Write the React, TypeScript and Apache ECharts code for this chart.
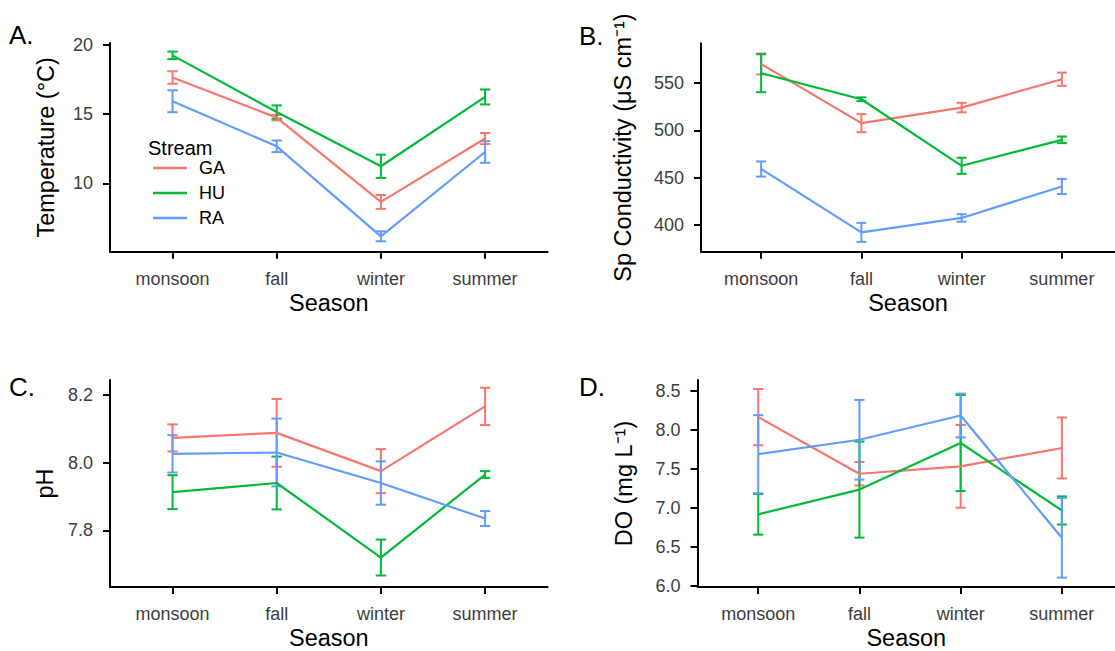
import React, { useEffect, useRef } from 'react';
import * as echarts from 'echarts';

const seasons = ['monsoon', 'fall', 'winter', 'summer'];
const streams = ['GA', 'HU', 'RA'];
const streamColors = ['#F8766D', '#00BA38', '#619CFF'];

// Panel A: temperature (°C), rows GA, HU, RA
const tempMean = [
  [17.64, 14.75, 8.67, 13.24],
  [19.24, 15.15, 11.24, 16.24],
  [15.93, 12.68, 6.19, 12.27],
];
const tempErr = [
  [0.45, 0.2, 0.5, 0.4],
  [0.27, 0.48, 0.84, 0.54],
  [0.79, 0.42, 0.36, 0.78],
];
const tempTicks = [10, 15, 20];

// Panel B: specific conductivity
const condMean = [
  [570, 507.6, 524, 553.9],
  [560.2, 532.8, 462.6, 490],
  [459.2, 392.4, 407.6, 440.8],
];
const condErr = [
  [11, 9.5, 5, 7],
  [20, 2, 8.5, 3.5],
  [8, 10, 4, 8],
];
const condTicks = [400, 450, 500, 550];

// Panel C: pH
const phMean = [
  [8.073, 8.088, 7.975, 8.166],
  [7.913, 7.94, 7.72, 7.965],
  [8.026, 8.03, 7.94, 7.835],
];
const phErr = [
  [0.04, 0.1, 0.065, 0.055],
  [0.05, 0.078, 0.053, 0.01],
  [0.055, 0.1, 0.064, 0.022],
];
const phTicks = [7.8, 8.0, 8.2];

// Panel D: dissolved oxygen
const doMean = [
  [8.165, 7.44, 7.535, 7.77],
  [6.92, 7.237, 7.833, 6.97],
  [7.69, 7.875, 8.185, 6.62],
];
const doErr = [
  [0.36, 0.15, 0.53, 0.39],
  [0.26, 0.615, 0.615, 0.18],
  [0.5, 0.51, 0.28, 0.51],
];
const doTicks = [6.0, 6.5, 7.0, 7.5, 8.0, 8.5];

const FONT = 'Liberation Sans, Arial, Helvetica, sans-serif';
const TICK_COLOR = '#3d3d3d';

const panels = [
  { letter: 'A.', lx: 9, ly: 35, left: 110, top: 43, width: 437.6, height: 208.7, xMax: 4.6, yMin: 5.08, yMax: 20.13, ticks: tempTicks, dec: 0, name: 'Temperature (°C)', nameGap: 52, mean: tempMean, err: tempErr },
  { letter: 'B.', lx: 579, ly: 36, left: 701, top: 43.3, width: 414, height: 208.4, xMax: 4.53, yMin: 372, yMax: 591.8, ticks: condTicks, dec: 0, name: 'Sp Conductivity (μS cm⁻¹)', nameGap: 66, mean: condMean, err: condErr },
  { letter: 'C.', lx: 9, ly: 387, left: 110, top: 380, width: 437.6, height: 207.7, xMax: 4.6, yMin: 7.633, yMax: 8.244, ticks: phTicks, dec: 1, name: 'pH', nameGap: 53, mean: phMean, err: phErr },
  { letter: 'D.', lx: 579, ly: 387, left: 697.5, top: 380, width: 417.5, height: 207.7, xMax: 4.525, yMin: 5.99, yMax: 8.64, ticks: doTicks, dec: 1, name: 'DO (mg L⁻¹)', nameGap: 62, mean: doMean, err: doErr },
];

const CAP_HALF = 0.05;

export default function App() {
  const ref = useRef<HTMLDivElement>(null);
  useEffect(() => {
    if (!ref.current) return;
    const chart = echarts.init(ref.current, null, { renderer: 'svg' });

    const grid = panels.map((p) => ({ left: p.left, top: p.top, width: p.width, height: p.height, containLabel: false }));
    const xAxis = panels.map((p, i) => ({
      type: 'value',
      gridIndex: i,
      min: 0.4,
      max: p.xMax,
      splitLine: { show: false },
      axisLine: { show: true, onZero: false, lineStyle: { color: '#000', width: 2 } },
      axisTick: { show: true, customValues: [1, 2, 3, 4], length: 7, lineStyle: { color: '#000', width: 2 } },
      axisLabel: {
        customValues: [1, 2, 3, 4],
        formatter: (v: number) => seasons[Math.round(v) - 1] || '',
        margin: 18,
        fontSize: 18,
        color: TICK_COLOR,
        fontFamily: FONT,
      },
      name: 'Season',
      nameLocation: 'middle',
      nameGap: 39,
      nameTextStyle: { fontSize: 23.5, color: '#000', fontFamily: FONT },
    }));
    const yAxis = panels.map((p, i) => ({
      type: 'value',
      gridIndex: i,
      min: p.yMin,
      max: p.yMax,
      splitLine: { show: false },
      axisLine: { show: true, onZero: false, lineStyle: { color: '#000', width: 2 } },
      axisTick: { show: true, customValues: p.ticks, length: 7, lineStyle: { color: '#000', width: 2 } },
      axisLabel: {
        customValues: p.ticks,
        formatter: (v: number) => v.toFixed(p.dec),
        margin: 17,
        fontSize: 18,
        color: TICK_COLOR,
        fontFamily: FONT,
      },
      name: p.name,
      nameLocation: 'middle',
      nameRotate: 90,
      nameGap: p.nameGap,
      nameTextStyle: { fontSize: 23.5, color: '#000', fontFamily: FONT },
    }));

    const series: any[] = [];
    panels.forEach((p, i) => {
      streams.forEach((s, k) => {
        const color = streamColors[k];
        series.push({
          type: 'custom',
          name: s + ' SE',
          xAxisIndex: i,
          yAxisIndex: i,
          silent: true,
          z: 3,
          data: seasons.map((_, j) => [j + 1, p.mean[k][j] - p.err[k][j], p.mean[k][j] + p.err[k][j]]),
          encode: { x: 0, y: [1, 2] },
          renderItem: (params: any, api: any) => {
            const x = api.value(0);
            const lo = api.value(1);
            const hi = api.value(2);
            const a = api.coord([x - CAP_HALF, lo]);
            const b = api.coord([x + CAP_HALF, hi]);
            const c = api.coord([x, lo]);
            const style = { stroke: color, lineWidth: 2, fill: null };
            return {
              type: 'group',
              children: [
                { type: 'line', shape: { x1: c[0], y1: a[1], x2: c[0], y2: b[1] }, style },
                { type: 'line', shape: { x1: a[0], y1: a[1], x2: b[0], y2: a[1] }, style },
                { type: 'line', shape: { x1: a[0], y1: b[1], x2: b[0], y2: b[1] }, style },
              ],
            };
          },
        });
        series.push({
          type: 'line',
          name: s,
          xAxisIndex: i,
          yAxisIndex: i,
          silent: true,
          z: 3,
          symbol: 'none',
          data: seasons.map((_, j) => [j + 1, p.mean[k][j]]),
          lineStyle: { color, width: 2.2 },
          itemStyle: { color },
        });
      });
    });

    const graphic: any[] = panels.map((p) => ({
      type: 'text',
      left: p.lx,
      top: p.ly - 13,
      style: { text: p.letter, fontSize: 26, fill: '#000', fontFamily: FONT },
    }));
    graphic.push({
      type: 'text',
      left: 148,
      top: 138,
      style: { text: 'Stream', fontSize: 20, fill: '#000', fontFamily: FONT },
    });

    chart.setOption({
      animation: false,
      backgroundColor: '#fff',
      textStyle: { fontFamily: FONT },
      grid,
      xAxis,
      yAxis,
      series,
      graphic,
      legend: {
        data: streams.map((s) => ({ name: s, icon: 'rect' })),
        orient: 'vertical',
        left: 153,
        top: 159,
        padding: 0,
        itemWidth: 34,
        itemHeight: 2.5,
        itemGap: 7,
        selectedMode: false,
        textStyle: { fontSize: 18, color: '#000', fontFamily: FONT, padding: [0, 0, 0, 7] },
      },
    });
    return () => chart.dispose();
  }, []);
  return <div ref={ref} style={{ position: 'fixed', left: 0, top: 0, width: 1115, height: 651, background: '#fff' }} />;
}
